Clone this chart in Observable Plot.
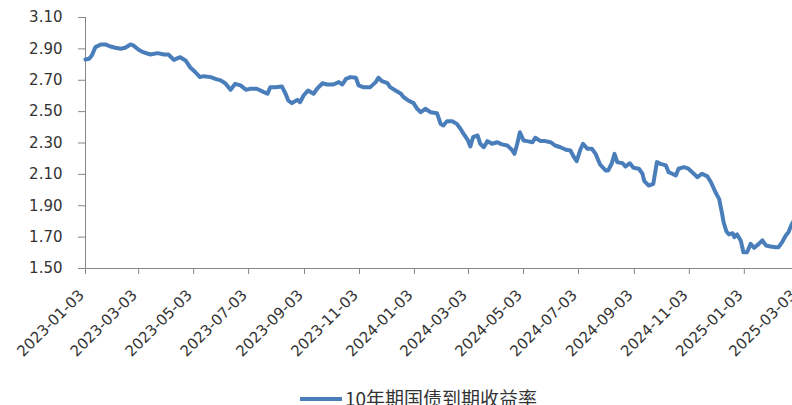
<!DOCTYPE html>
<html>
<head>
<meta charset="utf-8">
<script src="https://cdn.jsdelivr.net/npm/d3@7"></script>
<script src="https://cdn.jsdelivr.net/npm/@observablehq/plot@0.6"></script>
<style>
  html, body { margin: 0; padding: 0; background: #fff; overflow: hidden; width: 792px; height: 405px; }
  #wrap { position: relative; width: 792px; height: 405px; overflow: hidden; }
  #chart svg { overflow: hidden; display: block; }
  #legend-swatch { position: absolute; left: 300px; top: 397px; width: 42px; height: 4px; background: #4a7ebb; }
  #legend-text { position: absolute; left: 345px; top: 388px; font-family: "Noto Sans CJK SC", sans-serif; font-size: 19px; line-height: 1; color: #333; white-space: nowrap; }
</style>
</head>
<body>
<div id="wrap">
  <div id="chart"></div>
  <div id="legend-swatch"></div>
  <div id="legend-text"></div>
</div>
<script>
const seriesName = "10年期国债到期收益率";

const dates = [
  "2023-01-03","2023-01-07","2023-01-10","2023-01-14","2023-01-20","2023-01-25","2023-01-31","2023-02-05","2023-02-11","2023-02-16",
  "2023-02-22","2023-02-25","2023-03-03","2023-03-08","2023-03-16","2023-03-24","2023-03-31","2023-04-05","2023-04-11","2023-04-18",
  "2023-04-24","2023-04-29","2023-05-05","2023-05-10","2023-05-14","2023-05-22","2023-05-27","2023-06-02","2023-06-07","2023-06-13",
  "2023-06-18","2023-06-24","2023-06-30","2023-07-05","2023-07-12","2023-07-20","2023-07-24","2023-07-27","2023-08-02","2023-08-09",
  "2023-08-13","2023-08-16","2023-08-20","2023-08-26","2023-08-29","2023-09-02","2023-09-07","2023-09-13","2023-09-17","2023-09-23",
  "2023-09-28","2023-10-05","2023-10-11","2023-10-15","2023-10-19","2023-10-24","2023-10-30","2023-11-02","2023-11-07","2023-11-15",
  "2023-11-21","2023-11-24","2023-11-28","2023-12-04","2023-12-07","2023-12-13","2023-12-19","2023-12-22","2023-12-27","2024-01-02",
  "2024-01-06","2024-01-10","2024-01-15","2024-01-21","2024-01-28","2024-02-01","2024-02-04","2024-02-08","2024-02-14","2024-02-19",
  "2024-02-23","2024-02-26","2024-03-02","2024-03-05","2024-03-08","2024-03-13","2024-03-16","2024-03-20","2024-03-24","2024-03-29",
  "2024-04-04","2024-04-09","2024-04-15","2024-04-20","2024-04-23","2024-04-26","2024-04-29","2024-05-03","2024-05-07","2024-05-13",
  "2024-05-16","2024-05-22","2024-05-27","2024-06-02","2024-06-07","2024-06-13","2024-06-19","2024-06-24","2024-06-27","2024-07-01",
  "2024-07-05","2024-07-08","2024-07-13","2024-07-18","2024-07-22","2024-07-25","2024-07-27","2024-08-02","2024-08-05","2024-08-09",
  "2024-08-12","2024-08-15","2024-08-21","2024-08-24","2024-08-29","2024-09-02","2024-09-08","2024-09-12","2024-09-14","2024-09-19",
  "2024-09-24","2024-09-28","2024-10-02","2024-10-08","2024-10-11","2024-10-15","2024-10-19","2024-10-22","2024-10-28","2024-11-02",
  "2024-11-08","2024-11-12","2024-11-17","2024-11-23","2024-11-27","2024-12-02","2024-12-06","2024-12-09","2024-12-11","2024-12-14",
  "2024-12-17","2024-12-21","2024-12-23","2024-12-26","2024-12-30","2025-01-02","2025-01-06","2025-01-10","2025-01-14","2025-01-19",
  "2025-01-23","2025-01-27","2025-02-01","2025-02-07","2025-02-10","2025-02-14","2025-02-18","2025-02-21","2025-02-24","2025-02-27"
];

const yields = [
  2.832,2.837,2.858,2.911,2.928,2.928,2.915,2.907,2.901,2.907,
  2.928,2.922,2.894,2.879,2.864,2.873,2.864,2.864,2.830,2.847,
  2.826,2.783,2.751,2.720,2.726,2.720,2.709,2.699,2.681,2.639,
  2.677,2.667,2.639,2.646,2.646,2.624,2.614,2.656,2.656,2.660,
  2.614,2.571,2.554,2.575,2.560,2.603,2.635,2.614,2.646,2.681,
  2.673,2.673,2.688,2.673,2.709,2.720,2.716,2.667,2.656,2.656,
  2.688,2.716,2.694,2.681,2.656,2.635,2.614,2.592,2.571,2.554,
  2.518,2.496,2.518,2.496,2.490,2.422,2.412,2.439,2.439,2.422,
  2.391,2.363,2.320,2.278,2.337,2.348,2.295,2.273,2.312,2.295,
  2.305,2.291,2.284,2.257,2.231,2.295,2.369,2.316,2.312,2.305,
  2.333,2.312,2.312,2.305,2.284,2.273,2.257,2.252,2.220,2.184,
  2.257,2.295,2.263,2.263,2.231,2.189,2.163,2.125,2.125,2.171,
  2.231,2.178,2.171,2.150,2.171,2.142,2.136,2.104,2.057,2.029,
  2.040,2.178,2.167,2.157,2.114,2.104,2.093,2.136,2.146,2.136,
  2.104,2.082,2.104,2.087,2.050,1.986,1.944,1.859,1.795,1.738,
  1.717,1.725,1.700,1.717,1.679,1.604,1.604,1.657,1.632,1.657,
  1.679,1.647,1.640,1.636,1.636,1.668,1.710,1.731,1.774,1.806
];

const xTickLabels = [
  "2023-01-03","2023-03-03","2023-05-03","2023-07-03","2023-09-03","2023-11-03",
  "2024-01-03","2024-03-03","2024-05-03","2024-07-03","2024-09-03","2024-11-03",
  "2025-01-03","2025-03-03"
];
const yTickValues = [1.5, 1.7, 1.9, 2.1, 2.3, 2.5, 2.7, 2.9, 3.1];

const parse = d3.utcParse("%Y-%m-%d");
const fmt = d3.utcFormat("%Y-%m-%d");
const rows = dates.map((d, i) => ({date: parse(d), value: yields[i]}));
const xTicks = xTickLabels.map(parse);

const axisColor = "#868686";
const textColor = "#333333";

const chart = Plot.plot({
  width: 792,
  height: 380,
  marginLeft: 85,
  marginRight: 0,
  marginTop: 17,
  marginBottom: 112,
  style: {fontFamily: "DejaVu Sans", fontSize: "15px", color: textColor, background: "white", overflow: "hidden"},
  x: {type: "utc", domain: [xTicks[0], xTicks[xTicks.length - 1]], range: [85, 797], label: null},
  y: {domain: [1.5, 3.1], label: null},
  marks: [
    Plot.ruleY([1.5], {stroke: axisColor, strokeWidth: 1}),
    Plot.ruleX([xTicks[0]], {stroke: axisColor, strokeWidth: 1}),
    Plot.line(rows, {x: "date", y: "value", stroke: "#4a7ebb", strokeWidth: 4, strokeLinejoin: "round", strokeLinecap: "round"}),
    Plot.axisY({ticks: yTickValues, tickFormat: d => d.toFixed(2), tickSize: 7, tickPadding: 16, stroke: axisColor, fill: textColor, fontSize: 15, label: null}),
    // tick marks only
    Plot.axisX({ticks: xTicks, tickFormat: () => "", tickSize: 6, stroke: axisColor, label: null}),
    // rotated tick labels
    Plot.axisX({ticks: xTicks, tickFormat: fmt, tickRotate: -45, tickSize: 0, tickPadding: 24, dx: -4, fill: textColor, fontSize: 15, label: null})
  ]
});

document.getElementById("chart").appendChild(chart);
document.getElementById("legend-text").textContent = seriesName;
</script>
</body>
</html>
